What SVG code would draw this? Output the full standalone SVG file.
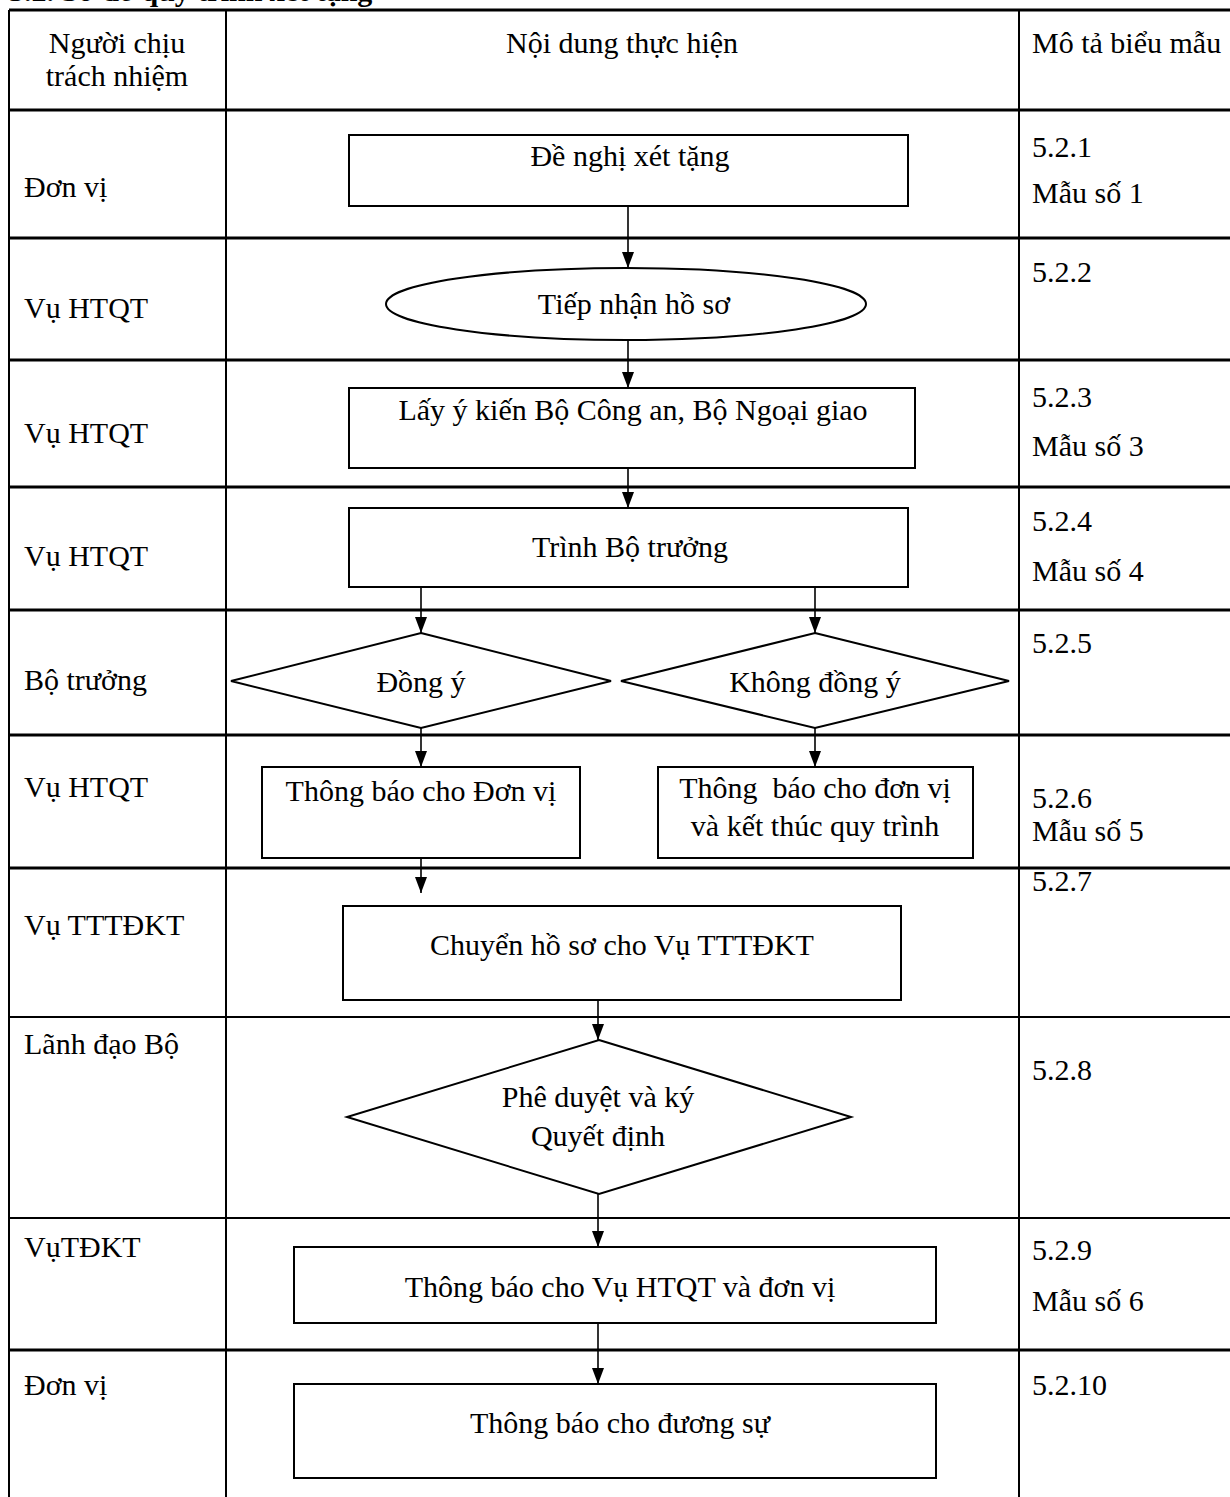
<svg xmlns="http://www.w3.org/2000/svg" width="1230" height="1497" viewBox="0 0 1230 1497" font-family="'Liberation Serif', 'Times New Roman', 'DejaVu Serif', serif">
<defs>
<style>
text{font-family:'Liberation Serif','Times New Roman','DejaVu Serif',serif;font-size:30px;fill:#000}
.c{text-anchor:middle}
.title{font-weight:bold}
.grid{stroke:#000;fill:none}
.h{stroke-width:3}
.v{stroke-width:2}
.shape{fill:#fff;stroke:#000;stroke-width:2}
.conn line{stroke:#000;stroke-width:1.6}
</style>
<marker id="ah" markerWidth="16" markerHeight="12" refX="16" refY="6" orient="auto" markerUnits="userSpaceOnUse">
<path d="M0,0 L16,6 L0,12 z" fill="#000"/>
</marker>
</defs>
<rect width="1230" height="1497" fill="#fff"/>
<text class="title" x="9" y="1">5.2. Sơ đồ quy trình xét tặng</text>
<g id="table" class="grid">
<line class="h" x1="9" y1="10" x2="1230" y2="10"/>
<line class="h" x1="9" y1="110" x2="1230" y2="110"/>
<line class="h" x1="9" y1="238" x2="1230" y2="238"/>
<line class="h" x1="9" y1="360" x2="1230" y2="360"/>
<line class="h" x1="9" y1="487" x2="1230" y2="487"/>
<line class="h" x1="9" y1="610" x2="1230" y2="610"/>
<line class="h" x1="9" y1="735" x2="1230" y2="735"/>
<line class="h" x1="9" y1="868" x2="1230" y2="868"/>
<line stroke-width="2" x1="9" y1="1017" x2="1230" y2="1017"/>
<line stroke-width="2" x1="9" y1="1218" x2="1230" y2="1218"/>
<line class="h" x1="9" y1="1350" x2="1230" y2="1350"/>
<line class="v" x1="9" y1="10" x2="9" y2="1497"/>
<line class="v" x1="226" y1="10" x2="226" y2="1497"/>
<line class="v" x1="1019" y1="10" x2="1019" y2="1497"/>
</g>
<g id="headers">
<text class="c" x="117" y="53">Người chịu</text>
<text class="c" x="117" y="86">trách nhiệm</text>
<text class="c" x="622" y="53">Nội dung thực hiện</text>
<text x="1032" y="53">Mô tả biểu mẫu</text>
</g>
<g id="responsible">
<text x="24" y="197">Đơn vị</text>
<text x="24" y="318">Vụ HTQT</text>
<text x="24" y="443">Vụ HTQT</text>
<text x="24" y="566">Vụ HTQT</text>
<text x="24" y="690">Bộ trưởng</text>
<text x="24" y="797">Vụ HTQT</text>
<text x="24" y="935">Vụ TTTĐKT</text>
<text x="24" y="1054">Lãnh đạo Bộ</text>
<text x="24" y="1257">VụTĐKT</text>
<text x="24" y="1395">Đơn vị</text>
</g>
<g id="forms">
<text x="1032" y="157">5.2.1</text>
<text x="1032" y="203">Mẫu số 1</text>
<text x="1032" y="282">5.2.2</text>
<text x="1032" y="407">5.2.3</text>
<text x="1032" y="456">Mẫu số 3</text>
<text x="1032" y="531">5.2.4</text>
<text x="1032" y="581">Mẫu số 4</text>
<text x="1032" y="653">5.2.5</text>
<text x="1032" y="808">5.2.6</text>
<text x="1032" y="841">Mẫu số 5</text>
<text x="1032" y="891">5.2.7</text>
<text x="1032" y="1080">5.2.8</text>
<text x="1032" y="1260">5.2.9</text>
<text x="1032" y="1311">Mẫu số 6</text>
<text x="1032" y="1395">5.2.10</text>
</g>
<g id="n1"><rect class="shape" x="349" y="135" width="559" height="71"/><text class="c" x="630" y="166">Đề nghị xét tặng</text></g>
<g id="n2"><ellipse class="shape" cx="626" cy="304" rx="240" ry="36"/><text class="c" x="634" y="314">Tiếp nhận hồ sơ</text></g>
<g id="n3"><rect class="shape" x="349" y="388" width="566" height="80"/><text class="c" x="633" y="420">Lấy ý kiến Bộ Công an, Bộ Ngoại giao</text></g>
<g id="n4"><rect class="shape" x="349" y="508" width="559" height="79"/><text class="c" x="630" y="557">Trình Bộ trưởng</text></g>
<g id="n5"><polygon class="shape" points="421,633 611,681 421,728 231,681"/><text class="c" x="421" y="692">Đồng ý</text></g>
<g id="n6"><polygon class="shape" points="815,633 1009,681 815,728 621,681"/><text class="c" x="815" y="692">Không đồng ý</text></g>
<g id="n7"><rect class="shape" x="262" y="767" width="318" height="91"/><text class="c" x="421" y="801">Thông báo cho Đơn vị</text></g>
<g id="n8"><rect class="shape" x="658" y="767" width="315" height="91"/><text class="c" x="815" y="798" xml:space="preserve">Thông  báo cho đơn vị</text><text class="c" x="815" y="836">và kết thúc quy trình</text></g>
<g id="n9"><rect class="shape" x="343" y="906" width="558" height="94"/><text class="c" x="622" y="955">Chuyển hồ sơ cho Vụ TTTĐKT</text></g>
<g id="n10"><polygon class="shape" points="599,1040 851,1117 599,1194 347,1117"/><text class="c" x="598" y="1107">Phê duyệt và ký</text><text class="c" x="598" y="1146">Quyết định</text></g>
<g id="n11"><rect class="shape" x="294" y="1247" width="642" height="76"/><text class="c" x="620" y="1297">Thông báo cho Vụ HTQT và đơn vị</text></g>
<g id="n12"><rect class="shape" x="294" y="1384" width="642" height="94"/><text class="c" x="620" y="1433">Thông báo cho đương sự</text></g>
<g id="connectors" class="conn">
<line x1="628" y1="206" x2="628" y2="268" marker-end="url(#ah)"/>
<line x1="628" y1="340" x2="628" y2="388" marker-end="url(#ah)"/>
<line x1="628" y1="468" x2="628" y2="508" marker-end="url(#ah)"/>
<line x1="421" y1="587" x2="421" y2="633" marker-end="url(#ah)"/>
<line x1="815" y1="587" x2="815" y2="633" marker-end="url(#ah)"/>
<line x1="421" y1="728" x2="421" y2="767" marker-end="url(#ah)"/>
<line x1="815" y1="728" x2="815" y2="767" marker-end="url(#ah)"/>
<line x1="421" y1="858" x2="421" y2="893" marker-end="url(#ah)"/>
<line x1="598" y1="1000" x2="598" y2="1040" marker-end="url(#ah)"/>
<line x1="598" y1="1194" x2="598" y2="1247" marker-end="url(#ah)"/>
<line x1="598" y1="1323" x2="598" y2="1384" marker-end="url(#ah)"/>
</g>
</svg>
